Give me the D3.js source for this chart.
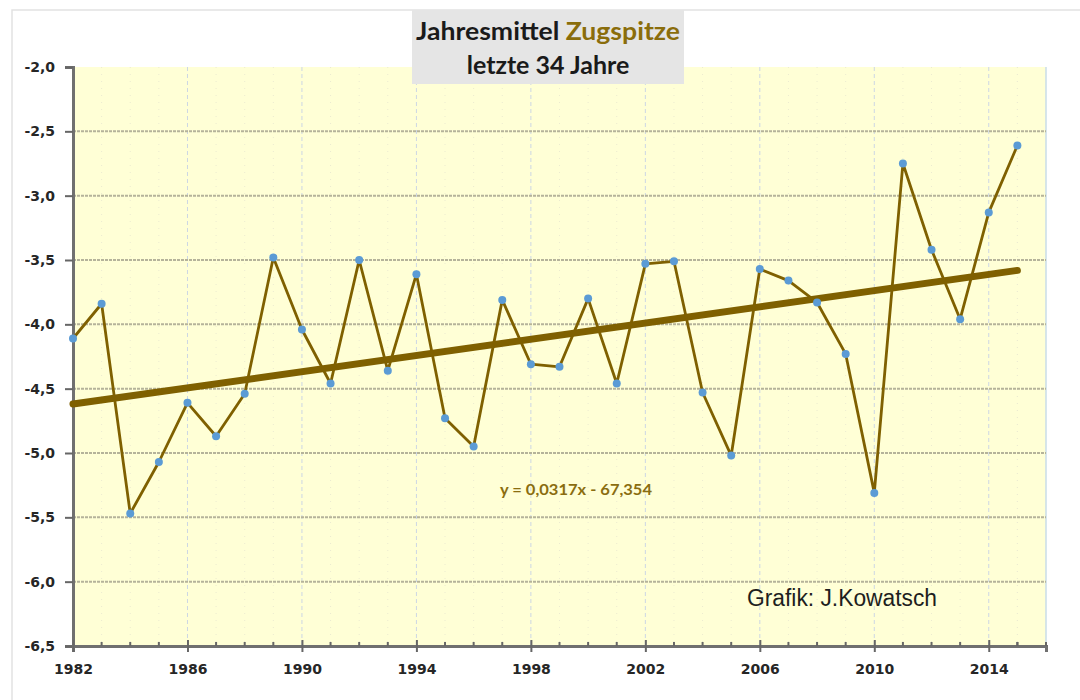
<!DOCTYPE html>
<html>
<head>
<meta charset="utf-8">
<script src="https://cdn.jsdelivr.net/npm/d3@7"></script>
<style>
  body { margin: 0; background: #fff; }
  svg { display: block; }
</style>
</head>
<body>
<div id="chart"></div>
<script>
const years = d3.range(1982, 2016)
const temps = [
  -4.11, -3.84, -5.47, -5.07, -4.61, -4.87, -4.54, -3.48, -4.04, -4.46,
  -3.50, -4.36, -3.61, -4.73, -4.95, -3.81, -4.31, -4.33, -3.80, -4.46,
  -3.53, -3.51, -4.53, -5.02, -3.57, -3.66, -3.83, -4.23, -5.31, -2.75,
  -3.42, -3.96, -3.13, -2.61
]
const yTicks = [-2.0, -2.5, -3.0, -3.5, -4.0, -4.5, -5.0, -5.5, -6.0, -6.5]
const xTicks = [1982, 1986, 1990, 1994, 1998, 2002, 2006, 2010, 2014]
const equation = 'y = 0,0317x - 67,354'
const credit = 'Grafik: J.Kowatsch'

const W = 1080
const H = 700
const plot = { left: 73, right: 1046, top: 67, bottom: 646 }
const tickFont = 'bold 14px "DejaVu Sans"'

const svg = d3.select('#chart').append('svg')
  .attr('width', W)
  .attr('height', H)

const x = d3.scaleLinear().domain([1982, 2016]).range([plot.left, plot.right])
const y = d3.scaleLinear().domain([-6.5, -2.0]).range([plot.bottom, plot.top])

// faint outer frame
svg.append('path')
  .attr('d', `M12,${H} V10 H${W}`)
  .attr('fill', 'none')
  .attr('stroke', '#e2e2e2')
  .attr('stroke-width', 1.5)

// plot background
svg.append('rect')
  .attr('x', plot.left)
  .attr('y', plot.top)
  .attr('width', plot.right - plot.left)
  .attr('height', plot.bottom - plot.top)
  .attr('fill', '#ffffd6')

// right edge
svg.append('line')
  .attr('x1', plot.right).attr('x2', plot.right)
  .attr('y1', plot.top).attr('y2', plot.bottom)
  .attr('stroke', '#c9dce8')
  .attr('stroke-width', 1.5)

// faint minor vertical lines every year
svg.append('g')
  .selectAll('line')
  .data(years.filter((d) => !xTicks.includes(d)).concat([2015]))
  .join('line')
  .attr('x1', (d) => x(d)).attr('x2', (d) => x(d))
  .attr('y1', plot.top).attr('y2', plot.bottom)
  .attr('stroke', '#ecebd0')
  .attr('stroke-dasharray', '1,6')

// vertical grid, dashed light blue
svg.append('g')
  .selectAll('line')
  .data(xTicks.slice(1))
  .join('line')
  .attr('x1', (d) => x(d)).attr('x2', (d) => x(d))
  .attr('y1', plot.top).attr('y2', plot.bottom)
  .attr('stroke', '#ccd6e4')
  .attr('stroke-width', 1)
  .attr('stroke-dasharray', '4,3')

// horizontal grid
svg.append('g')
  .selectAll('line')
  .data(yTicks.slice(1, -1))
  .join('line')
  .attr('x1', plot.left).attr('x2', plot.right)
  .attr('y1', (d) => y(d)).attr('y2', (d) => y(d))
  .attr('stroke', '#b5b39a')
  .attr('stroke-width', 2)
  .attr('stroke-dasharray', '3,1')

// y axis
const yAxis = svg.append('g')
  .attr('transform', `translate(${plot.left},0)`)
  .call(d3.axisLeft(y).tickValues(yTicks).tickSize(8).tickPadding(10)
    .tickFormat((d) => d3.format('.1f')(d).replace('.', ',').replace('−', '-')))
yAxis.select('.domain').attr('stroke', '#707070').attr('stroke-width', 3)
yAxis.selectAll('.tick line').attr('stroke', '#666').attr('stroke-width', 2)
yAxis.selectAll('.tick text').style('font', tickFont).style('fill', '#262626')

// x axis
const xAxis = svg.append('g')
  .attr('transform', `translate(0,${plot.bottom})`)
  .call(d3.axisBottom(x).tickValues(xTicks).tickSize(6).tickPadding(12).tickFormat(d3.format('d')))
xAxis.select('.domain').attr('stroke', '#707070').attr('stroke-width', 3)
xAxis.selectAll('.tick line').attr('stroke', '#666').attr('stroke-width', 2).attr('y1', -6)
xAxis.selectAll('.tick text').style('font', tickFont).style('fill', '#262626')

// minor x ticks
svg.append('g')
  .selectAll('line')
  .data(years.concat([2015, 2016]).filter((d) => !xTicks.includes(d)))
  .join('line')
  .attr('x1', (d) => x(d)).attr('x2', (d) => x(d))
  .attr('y1', plot.bottom - 4).attr('y2', plot.bottom)
  .attr('stroke', '#666')
  .attr('stroke-width', 2)

// trend line (least squares)
const xMean = d3.mean(years)
const yMean = d3.mean(temps)
const slope = d3.sum(years, (d, i) => (d - xMean) * (temps[i] - yMean)) /
  d3.sum(years, (d) => (d - xMean) ** 2)
const intercept = yMean - slope * xMean
const trendYears = [years[0], years[years.length - 1]]

svg.append('line')
  .attr('x1', x(trendYears[0]))
  .attr('x2', x(trendYears[1]))
  .attr('y1', y(slope * trendYears[0] + intercept))
  .attr('y2', y(slope * trendYears[1] + intercept))
  .attr('stroke', '#7f6000')
  .attr('stroke-width', 7)
  .attr('stroke-linecap', 'round')

// data line
const line = d3.line()
  .x((d, i) => x(years[i]))
  .y((d) => y(d))

svg.append('path')
  .datum(temps)
  .attr('d', line)
  .attr('fill', 'none')
  .attr('stroke', '#7f6000')
  .attr('stroke-width', 2.8)
  .attr('stroke-linejoin', 'round')

svg.append('g')
  .selectAll('circle')
  .data(temps)
  .join('circle')
  .attr('cx', (d, i) => x(years[i]))
  .attr('cy', (d) => y(d))
  .attr('r', 4)
  .attr('fill', '#5b9bd5')

// equation label
svg.append('text')
  .attr('x', 500)
  .attr('y', 495)
  .attr('font-family', 'Lato, sans-serif')
  .attr('font-weight', 'bold')
  .attr('font-size', 15)
  .attr('fill', '#8a6d10')
  .attr('textLength', 152)
  .attr('lengthAdjust', 'spacingAndGlyphs')
  .text(equation)

// credit
svg.append('text')
  .attr('x', 747)
  .attr('y', 606)
  .attr('font-family', 'Liberation Sans, Arial, sans-serif')
  .attr('font-size', 23)
  .attr('fill', '#1e1e1e')
  .attr('textLength', 190)
  .attr('lengthAdjust', 'spacingAndGlyphs')
  .text(credit)

// title box
svg.append('rect')
  .attr('x', 412)
  .attr('y', 10)
  .attr('width', 272)
  .attr('height', 74)
  .attr('fill', '#e5e5e5')

const title = svg.append('text')
  .attr('x', 548)
  .attr('y', 40)
  .attr('text-anchor', 'middle')
  .attr('font-family', 'Lato, sans-serif')
  .attr('font-weight', 'bold')
  .attr('font-size', 25)
  .attr('fill', '#1a1a1a')
  .attr('textLength', 264)
  .attr('lengthAdjust', 'spacingAndGlyphs')
title.append('tspan').text('Jahresmittel ')
title.append('tspan').attr('fill', '#8a6d0b').text('Zugspitze')

svg.append('text')
  .attr('x', 548)
  .attr('y', 74)
  .attr('text-anchor', 'middle')
  .attr('font-family', 'Lato, sans-serif')
  .attr('font-weight', 'bold')
  .attr('font-size', 25)
  .attr('fill', '#1a1a1a')
  .text('letzte 34 Jahre')
</script>
</body>
</html>
